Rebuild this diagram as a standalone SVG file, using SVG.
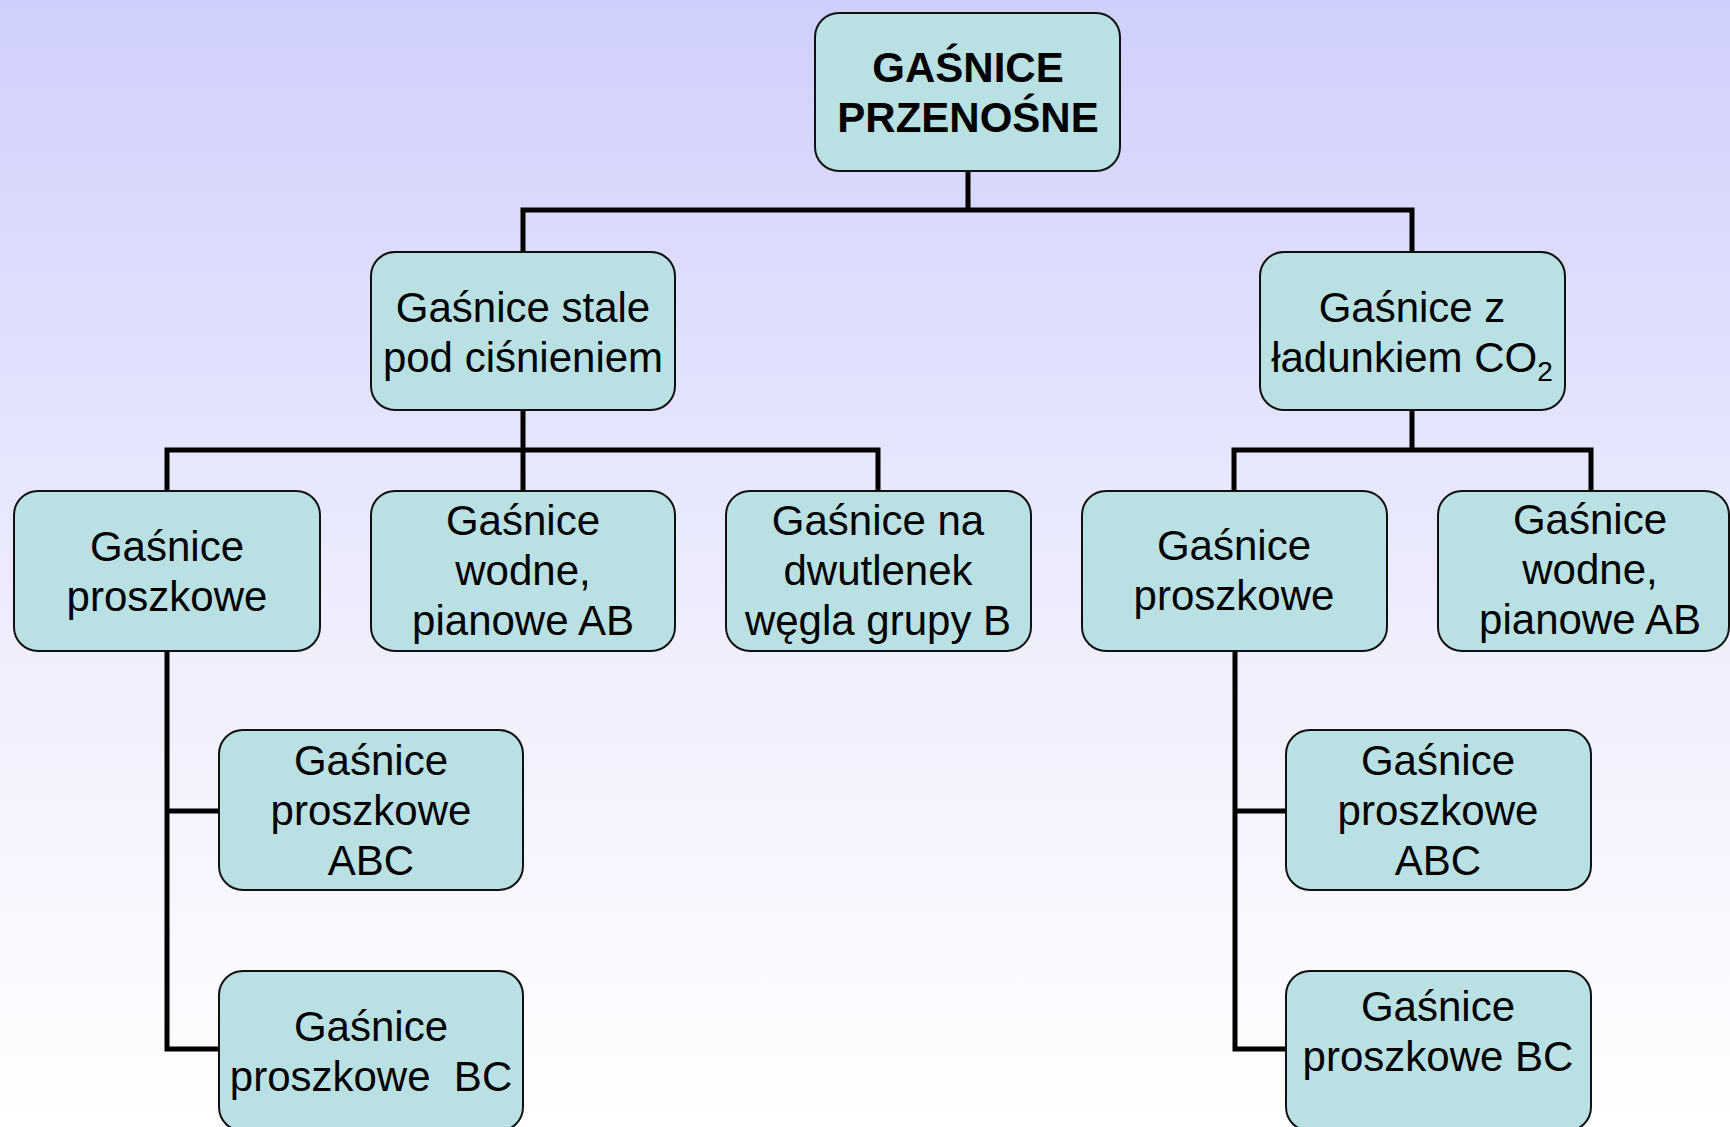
<svg xmlns="http://www.w3.org/2000/svg" width="1730" height="1127" viewBox="0 0 1730 1127">
<defs>
<linearGradient id="bg" x1="0" y1="0" x2="0" y2="1">
<stop offset="0" stop-color="#cfcffd"/>
<stop offset="0.5" stop-color="#ebebfd"/>
<stop offset="1" stop-color="#ffffff"/>
</linearGradient>
</defs>
<style>
.box{fill:#b9e0e3;stroke:#111;stroke-width:2}
.t{font-family:"Liberation Sans",Arial,sans-serif;font-size:42px;fill:#000;text-anchor:middle}
.b{font-weight:bold}
.c{fill:none;stroke:#000;stroke-width:5;stroke-linejoin:miter}
</style>
<rect width="1730" height="1127" fill="url(#bg)"/>
<g id="connectors">
<path class="c" d="M968 171V210M523 252V210H1412V252"/>
<path class="c" d="M523 410V450M167 491V450H878V491M523 450V491"/>
<path class="c" d="M1412 410V450M1234 491V450H1591V491"/>
<path class="c" d="M167 651V1049H219M167 811H219"/>
<path class="c" d="M1235 651V1049H1286M1235 811H1286"/>
</g>
<g id="root">
<rect class="box" x="815" y="13" width="305" height="158" rx="24"/>
<text class="t b" x="968" y="82">GAŚNICE</text>
<text class="t b" x="968" y="132">PRZENOŚNE</text>
</g>
<g id="stale">
<rect class="box" x="371" y="252" width="304" height="158" rx="24"/>
<text class="t" x="523" y="322">Gaśnice stale</text>
<text class="t" x="523" y="372">pod ciśnieniem</text>
</g>
<g id="co2">
<rect class="box" x="1260" y="252" width="305" height="158" rx="24"/>
<text class="t" x="1412" y="322">Gaśnice z</text>
<text class="t" x="1412" y="372">ładunkiem CO<tspan font-size="28" dy="9">2</tspan></text>
</g>
<g id="proszkowe-l">
<rect class="box" x="14" y="491" width="306" height="160" rx="24"/>
<text class="t" x="167" y="561">Gaśnice</text>
<text class="t" x="167" y="611">proszkowe</text>
</g>
<g id="wodne-l">
<rect class="box" x="371" y="491" width="304" height="160" rx="24"/>
<text class="t" x="523" y="535">Gaśnice</text>
<text class="t" x="523" y="585">wodne,</text>
<text class="t" x="523" y="635">pianowe AB</text>
</g>
<g id="dwutlenek">
<rect class="box" x="726" y="491" width="305" height="160" rx="24"/>
<text class="t" x="878" y="535">Gaśnice na</text>
<text class="t" x="878" y="585">dwutlenek</text>
<text class="t" x="878" y="635">węgla grupy B</text>
</g>
<g id="proszkowe-r">
<rect class="box" x="1082" y="491" width="305" height="160" rx="24"/>
<text class="t" x="1234" y="560">Gaśnice</text>
<text class="t" x="1234" y="610">proszkowe</text>
</g>
<g id="wodne-r">
<rect class="box" x="1438" y="491" width="291" height="160" rx="24"/>
<text class="t" x="1590" y="534">Gaśnice</text>
<text class="t" x="1590" y="584">wodne,</text>
<text class="t" x="1590" y="634">pianowe AB</text>
</g>
<g id="abc-l">
<rect class="box" x="219" y="730" width="304" height="160" rx="24"/>
<text class="t" x="371" y="775">Gaśnice</text>
<text class="t" x="371" y="825">proszkowe</text>
<text class="t" x="371" y="875">ABC</text>
</g>
<g id="bc-l">
<rect class="box" x="219" y="971" width="304" height="160" rx="24"/>
<text class="t" x="371" y="1041">Gaśnice</text>
<text class="t" x="371" y="1091" xml:space="preserve">proszkowe  BC</text>
</g>
<g id="abc-r">
<rect class="box" x="1286" y="730" width="305" height="160" rx="24"/>
<text class="t" x="1438" y="775">Gaśnice</text>
<text class="t" x="1438" y="825">proszkowe</text>
<text class="t" x="1438" y="875">ABC</text>
</g>
<g id="bc-r">
<rect class="box" x="1286" y="971" width="305" height="160" rx="24"/>
<text class="t" x="1438" y="1021">Gaśnice</text>
<text class="t" x="1438" y="1071">proszkowe BC</text>
</g>
</svg>
